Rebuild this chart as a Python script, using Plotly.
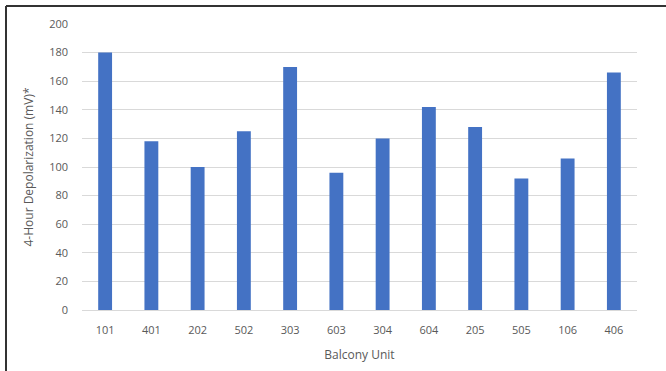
import plotly.graph_objects as go

units = ["101", "401", "202", "502", "303", "603", "304", "604", "205", "505", "106", "406"]
depolarization = [180, 118, 100, 125, 170, 96, 120, 142, 128, 92, 106, 166]
y_ticks = [0, 20, 40, 60, 80, 100, 120, 140, 160, 180, 200]

W, H = 666, 371
L, R, T, B = 82, 29, 24, 61
pw, ph = W - L - R, H - T - B

fig = go.Figure(go.Bar(
    x=units, y=depolarization,
    marker=dict(color="#4472C4", line=dict(width=0)),
    width=0.3,
))

font = "Open Sans, Liberation Sans, sans-serif"
fig.update_layout(
    width=W, height=H,
    margin=dict(l=L, r=R, t=T, b=B, pad=0, autoexpand=False),
    paper_bgcolor="white", plot_bgcolor="white",
    showlegend=False,
    font=dict(family=font, size=11, color="#595959"),
    xaxis=dict(
        type="category", automargin=False,
        showgrid=False,
        showline=True, linecolor="#d9d9d9", linewidth=1,
        ticks="", ticklabelstandoff=10, tickfont=dict(size=11, color="#595959"),
        title=dict(text="Balcony Unit", font=dict(size=12, color="#595959"), standoff=14),
    ),
    yaxis=dict(
        range=[0, 200], tickvals=y_ticks, automargin=False,
        showgrid=True, gridcolor="#d9d9d9", gridwidth=1,
        zeroline=False, showline=False,
        ticks="", ticklabelstandoff=13,
        tickfont=dict(size=11, color="#595959"),
        title=dict(text="4-Hour Depolarization (mV)*", font=dict(size=12, color="#595959"), standoff=12),
    ),
    shapes=[
        dict(type="line", xref="paper", yref="paper",
             x0=(6 - L) / pw, x1=(6 - L) / pw, y0=(H - B - 6) / ph, y1=(H - B - H - 5) / ph,
             line=dict(color="#333333", width=2)),
        dict(type="line", xref="paper", yref="paper",
             x0=(6 - L) / pw, x1=(W + 5 - L) / pw, y0=(H - B - 6) / ph, y1=(H - B - 6) / ph,
             line=dict(color="#333333", width=2)),
    ],
)

fig.write_html("out.html", config={"displayModeBar": False},
               post_script="document.body.style.margin='0';document.body.style.overflow='hidden';")
